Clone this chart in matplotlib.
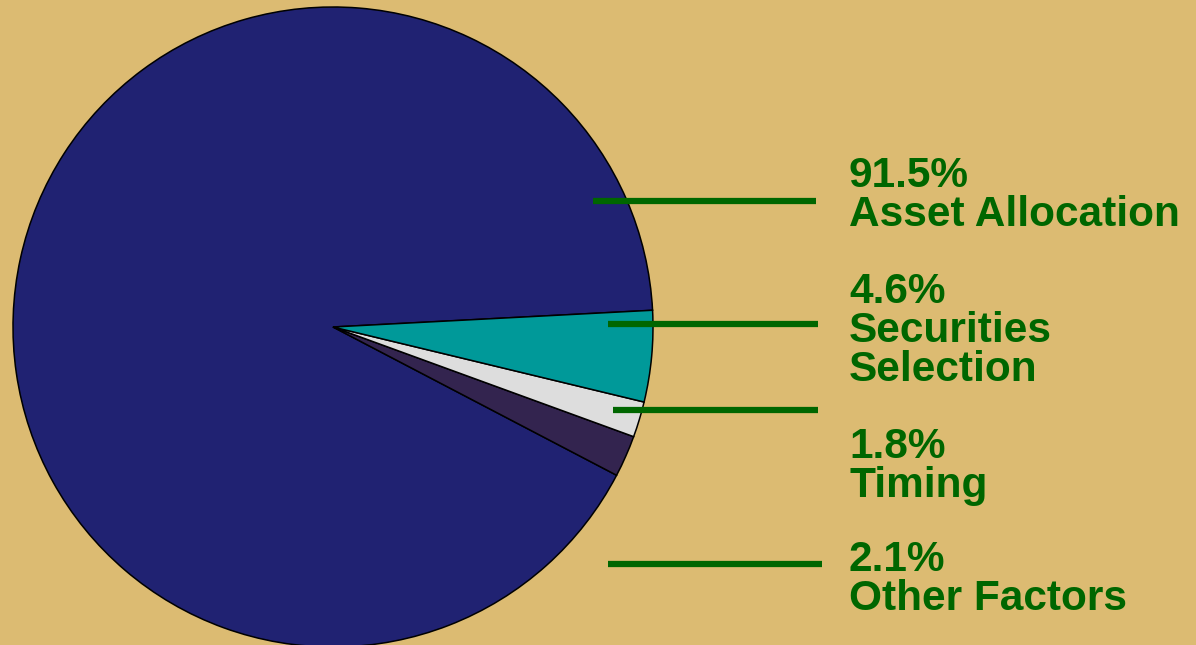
import matplotlib
matplotlib.use("Agg")
import matplotlib.pyplot as plt

# slice data, in drawing order (counterclockwise from start angle)
labels = ["Asset Allocation", "Other Factors", "Timing", "Securities Selection"]
shares = [91.5, 2.1, 1.8, 4.6]
colors = ["#202272", "#33244F", "#DDDDDD", "#009999"]

# label text blocks (top to bottom on the right)
label_lines = [
    ["91.5%", "Asset Allocation"],
    ["4.6%", "Securities", "Selection"],
    ["1.8%", "Timing"],
    ["2.1%", "Other Factors"],
]

BG = "#DCBB72"
GREEN = "#006600"
W, H = 1196, 645

fig = plt.figure(figsize=(W / 100, H / 100), dpi=100, facecolor=BG)

# pie: centre (333, 327) px, radius 320 px
cx, cy, r = 333, 327, 320
ax = fig.add_axes([(cx - r) / W, (H - cy - r) / H, 2 * r / W, 2 * r / H])
ax.set_facecolor(BG)
ax.pie(
    shares,
    colors=colors,
    startangle=3,
    counterclock=True,
    radius=1.0,
    wedgeprops=dict(edgecolor="black", linewidth=1.1),
)
ax.set_xlim(-1, 1)
ax.set_ylim(-1, 1)
ax.set_aspect("equal")
ax.axis("off")

# overlay in pixel coordinates for leader lines and labels
ov = fig.add_axes([0, 0, 1, 1], facecolor="none")
ov.set_xlim(0, W)
ov.set_ylim(H, 0)
ov.axis("off")

leader_x0 = [593, 608, 613, 608]
leader_x1 = [816, 818, 818, 822]
leader_y = [201, 324, 410, 564]
first_baseline = [187, 303, 458, 571]
line_step = 39

for x0, x1, y in zip(leader_x0, leader_x1, leader_y):
    ov.plot([x0, x1], [y, y], color=GREEN, linewidth=4.5, solid_capstyle="butt")

for lines, yb in zip(label_lines, first_baseline):
    for i, txt in enumerate(lines):
        ov.text(849, yb + i * line_step, txt, color=GREEN, fontsize=30.5,
                fontweight="bold", family="Liberation Sans",
                ha="left", va="baseline")

fig.savefig("out.png", dpi=100, facecolor=BG)
